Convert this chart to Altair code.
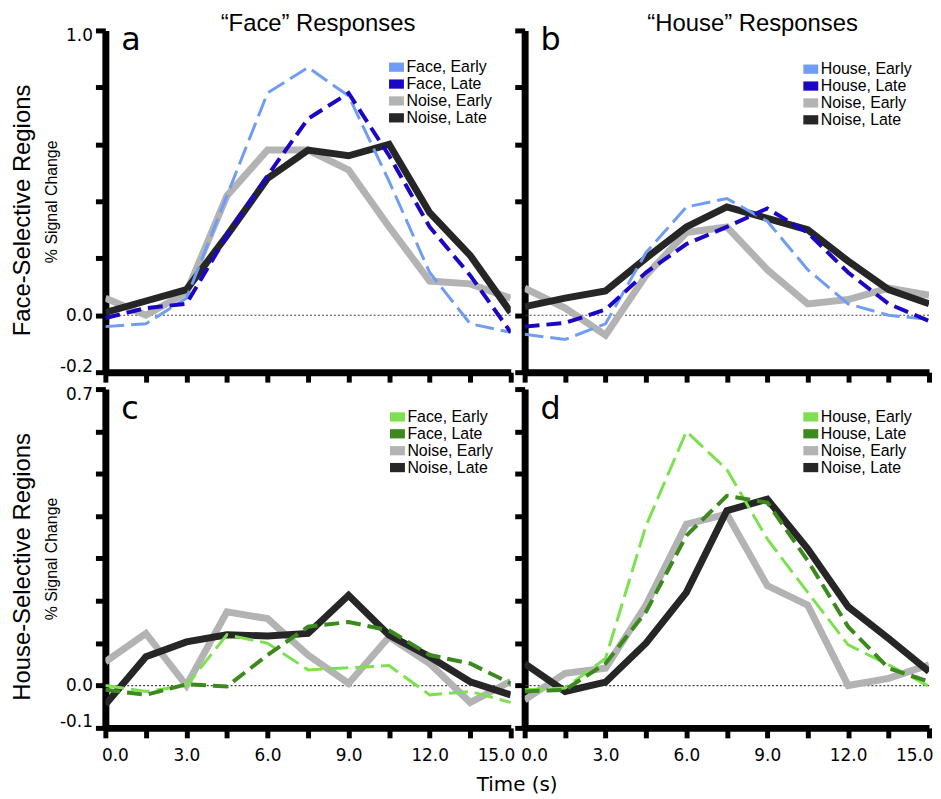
import altair as alt
import pandas as pd

TIME = [0, 1.5, 3, 4.5, 6, 7.5, 9, 10.5, 12, 13.5, 15]

# Panel a: face-selective regions, "Face" responses
A_NAMES = ["Face, Early", "Face, Late", "Noise, Early", "Noise, Late"]
A_FACE_EARLY = [-0.04, -0.03, 0.06, 0.42, 0.78, 0.87, 0.77, 0.47, 0.15, -0.03, -0.06]
A_FACE_LATE = [-0.01, 0.025, 0.04, 0.28, 0.49, 0.69, 0.78, 0.56, 0.31, 0.14, -0.06]
A_NOISE_EARLY = [0.06, 0.0, 0.08, 0.42, 0.58, 0.58, 0.51, 0.31, 0.12, 0.11, 0.06]
A_NOISE_LATE = [0.01, 0.05, 0.09, 0.28, 0.48, 0.58, 0.56, 0.60, 0.36, 0.21, 0.01]

# Panel b: face-selective regions, "House" responses
B_NAMES = ["House, Early", "House, Late", "Noise, Early", "Noise, Late"]
B_HOUSE_EARLY = [-0.067, -0.085, -0.03, 0.22, 0.38, 0.41, 0.33, 0.16, 0.04, 0.0, -0.015]
B_HOUSE_LATE = [-0.04, -0.027, 0.02, 0.15, 0.25, 0.31, 0.375, 0.29, 0.15, 0.04, -0.02]
B_NOISE_EARLY = [0.095, 0.025, -0.07, 0.14, 0.29, 0.31, 0.16, 0.04, 0.055, 0.095, 0.07]
B_NOISE_LATE = [0.03, 0.06, 0.085, 0.20, 0.31, 0.38, 0.34, 0.30, 0.19, 0.09, 0.04]

# Panel c: house-selective regions, "Face" responses
C_NAMES = ["Face, Early", "Face, Late", "Noise, Early", "Noise, Late"]
C_FACE_EARLY = [0.0, -0.014, 0.0, 0.12, 0.10, 0.037, 0.042, 0.047, -0.022, -0.014, -0.04]
C_FACE_LATE = [-0.01, -0.022, 0.003, -0.002, 0.072, 0.139, 0.15, 0.13, 0.072, 0.052, 0.005]
C_NOISE_EARLY = [0.056, 0.123, 0.0, 0.174, 0.158, 0.072, 0.005, 0.115, 0.052, -0.04, 0.01]
C_NOISE_LATE = [-0.045, 0.068, 0.103, 0.12, 0.117, 0.123, 0.213, 0.119, 0.068, 0.009, -0.022]

# Panel d: house-selective regions, "House" responses
D_NAMES = ["House, Early", "House, Late", "Noise, Early", "Noise, Late"]
D_HOUSE_EARLY = [-0.01, -0.006, 0.064, 0.377, 0.60, 0.51, 0.346, 0.22, 0.096, 0.049, -0.002]
D_HOUSE_LATE = [-0.014, -0.01, 0.052, 0.174, 0.354, 0.448, 0.432, 0.295, 0.139, 0.041, 0.009]
D_NOISE_EARLY = [-0.034, 0.029, 0.041, 0.19, 0.381, 0.405, 0.236, 0.19, 0.0, 0.017, 0.049]
D_NOISE_LATE = [0.052, -0.014, 0.008, 0.10, 0.22, 0.413, 0.44, 0.323, 0.186, 0.111, 0.033]

BLUES = ["#6f9df5", "#1c06c6", "#b3b3b3", "#262626"]
GREENS = ["#7ce04f", "#3c8a1d", "#b3b3b3", "#262626"]

TOP_YTICKS = [-0.2, 0.0, 0.2, 0.4, 0.6, 0.8, 1.0]
TOP_YLABELS = [-0.2, 0.0, 1.0]
BOT_YTICKS = [-0.1, 0.0, 0.1, 0.2, 0.3, 0.4, 0.5, 0.6, 0.7]
BOT_YLABELS = [-0.1, 0.0, 0.7]


def label_expr(vals, fmt=".1f"):
    cond = " || ".join(f"abs(datum.value - ({v})) < 1e-6" for v in vals)
    return f"({cond}) ? replace(format(datum.value, '{fmt}'), '\u2212', '-') : ''"


LINE_STYLES = [
    dict(strokeWidth=3, strokeDash=[19, 7]),
    dict(strokeWidth=4, strokeDash=[15, 7]),
    dict(strokeWidth=7),
    dict(strokeWidth=7),
]
DRAW_ORDER = [2, 3, 0, 1]

AXIS_STYLE = dict(
    domainColor="black",
    domainWidth=7,
    tickColor="black",
    tickWidth=5,
    tickSize=10,
    labelFont="DejaVu Sans",
    labelFontSize=17,
    labelColor="black",
    grid=False,
)


def panel(series, names, colors, ydomain, yticks, ylabels, top, left, letter,
          letter_y, legend_x, legend_y, width, height, title=None, title_dx=0, xtitle=None):
    xscale = alt.Scale(domain=[0, 15], nice=False, zero=False)
    yscale = alt.Scale(domain=ydomain, nice=False, zero=False)
    if xtitle:
        xkw = dict(title=xtitle, titleX=414, titleAlign="center", titleFont="DejaVu Sans",
                   titleFontSize=20, titleFontWeight="normal", titleColor="black",
                   titlePadding=11)
    else:
        xkw = dict(title=None)
    xaxis = alt.Axis(
        values=TIME,
        labels=not top,
        labelExpr="datum.value % 3 == 0 ? format(datum.value, '.1f') : ''",
        labelFlush=True,
        labelFlushOffset=4,
        labelPadding=10,
        **xkw,
        **AXIS_STYLE,
    )
    if left:
        ykw = dict(title="% Signal Change", titleFont="Liberation Sans", titleFontSize=16,
                   titleFontWeight="normal", titleColor="black", titlePadding=0)
    else:
        ykw = dict(title=None)
    yaxis = alt.Axis(
        values=yticks,
        labels=left,
        labelExpr=label_expr(ylabels),
        labelFlush=True,
        labelFlushOffset=3,
        labelPadding=3,
        **ykw,
        **AXIS_STYLE,
    )
    x_enc = alt.X("time:Q", scale=xscale, axis=xaxis)
    y_enc = alt.Y("value:Q", scale=yscale, axis=yaxis)

    layers = []
    zero = alt.Chart(pd.DataFrame({"value": [0.0]})).mark_rule(
        color="#444444", strokeWidth=1.2, strokeDash=[2, 2]
    ).encode(y=y_enc)
    layers.append(zero)
    for i in DRAW_ORDER:
        df = pd.DataFrame({"time": TIME, "value": series[i]})
        layers.append(
            alt.Chart(df).mark_line(color=colors[i], clip=True, **LINE_STYLES[i]).encode(
                x=x_enc, y=y_enc
            )
        )
    leg_df = pd.DataFrame({"series": names})
    legend = alt.Chart(leg_df).mark_square(filled=True).encode(
        color=alt.Color(
            "series:N",
            scale=alt.Scale(domain=names, range=colors),
            legend=alt.Legend(
                orient="none",
                legendX=legend_x,
                legendY=legend_y,
                title=None,
                symbolType="M-1,-0.62H1V0.62H-1Z",
                symbolSize=225,
                symbolStrokeWidth=0,
                symbolOpacity=1,
                labelFont="Liberation Sans",
                labelFontSize=16,
                labelColor="black",
                labelOffset=2,
                rowPadding=1,
                padding=0,
            ),
        )
    ).transform_filter("false")
    layers.append(legend)
    txt = alt.Chart(pd.DataFrame({"t": [letter]})).mark_text(
        font="DejaVu Sans", fontSize=32, align="left", baseline="alphabetic", color="black"
    ).encode(x=alt.value(16), y=alt.value(letter_y), text="t:N")
    layers.append(txt)

    props = dict(width=width, height=height)
    if title:
        props["title"] = alt.TitleParams(
            title, font="Liberation Sans", fontSize=24, fontWeight="normal",
            anchor="middle", offset=-12, color="black", dx=title_dx
        )
    return alt.layer(*layers).properties(**props)


a = panel([A_FACE_EARLY, A_FACE_LATE, A_NOISE_EARLY, A_NOISE_LATE], A_NAMES, BLUES,
          [-0.2, 1.0], TOP_YTICKS, TOP_YLABELS, True, True, "a", 20, 285, 29, 408, 344,
          title="\u201cFace\u201d Responses", title_dx=10)
b = panel([B_HOUSE_EARLY, B_HOUSE_LATE, B_NOISE_EARLY, B_NOISE_LATE], B_NAMES, BLUES,
          [-0.2, 1.0], TOP_YTICKS, TOP_YLABELS, True, False, "b", 20, 280, 31, 407, 344,
          title="\u201cHouse\u201d Responses", title_dx=26)
c = panel([C_FACE_EARLY, C_FACE_LATE, C_NOISE_EARLY, C_NOISE_LATE], C_NAMES, GREENS,
          [-0.1, 0.7], BOT_YTICKS, BOT_YLABELS, False, True, "c", 30, 286, 20, 408, 341,
          xtitle="Time (s)")
d = panel([D_HOUSE_EARLY, D_HOUSE_LATE, D_NOISE_EARLY, D_NOISE_LATE], D_NAMES, GREENS,
          [-0.1, 0.7], BOT_YTICKS, BOT_YLABELS, False, False, "d", 30, 280, 20, 407, 341)


def row_title(text, dx):
    return alt.TitleParams(text, orient="left", anchor="middle", font="Liberation Sans",
                           fontSize=24, fontWeight="normal", offset=9, color="black", dx=dx)


row1 = alt.hconcat(a, b, spacing=14, bounds="flush",
                   title=row_title("Face-Selective Regions", -12)
                   ).resolve_scale(color="independent").resolve_legend(color="independent")
row2 = alt.hconcat(c, d, spacing=14, bounds="flush",
                   title=row_title("House-Selective Regions", 23)
                   ).resolve_scale(color="independent").resolve_legend(color="independent")

chart = alt.vconcat(row1, row2, spacing=0).resolve_scale(
    color="independent"
).resolve_legend(color="independent").configure(
    padding={"left": 2, "top": 2, "right": 0, "bottom": 0}
).configure_view(stroke=None)

chart.save("out.html", embed_options={"renderer": "svg", "actions": False})
